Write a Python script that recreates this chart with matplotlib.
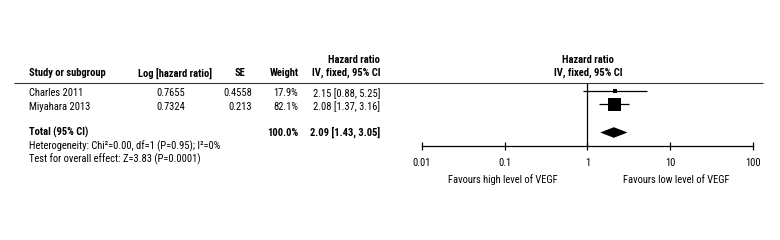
import numpy as np
import matplotlib
matplotlib.use('Agg')
import matplotlib.pyplot as plt

plt.rcParams['font.family'] = ['Roboto Condensed', 'Liberation Sans']

# dados
studies = ['Charles 2011', 'Miyahara 2013']
log_hr = ['0.7655', '0.7324']
se = ['0.4558', '0.213']
weight = [17.9, 82.1]
hr = [2.15, 2.08]
ci_lo = [0.88, 1.37]
ci_hi = [5.25, 3.16]

total_weight = 100.0
total_hr = 2.09
total_lo = 1.43
total_hi = 3.05
heterogeneity = 'Heterogeneity: Chi\u00b2=0.00, df=1 (P=0.95); I\u00b2=0%'
overall = 'Test for overall effect: Z=3.83 (P=0.0001)'

ticks = [0.01, 0.1, 1, 10, 100]
tick_labels = ['0.01', '0.1', '1', '10', '100']
left_label = 'Favours high level of VEGF'
right_label = 'Favours low level of VEGF'

# layout (pixels)
W, H = 780, 240
fs = 7.6
row_y = [93.5, 106.5]
total_y = 132.5
axis_y = 146.3
header_y = 82.5

fig = plt.figure(figsize=(W / 100, H / 100), dpi=100)

# tabela
tab = fig.add_axes([0, 0, 1, 1])
tab.set_xlim(0, W)
tab.set_ylim(H, 0)
tab.axis('off')

tab.hlines(header_y, 14, 763, color='#333333', lw=0.8)

bold = dict(fontsize=fs, fontweight='bold', va='center')
norm = dict(fontsize=fs, va='center')

tab.text(29, 73, 'Study or subgroup', ha='left', **bold)
tab.text(175, 73, 'Log [hazard ratio]', ha='center', **bold)
tab.text(240, 73, 'SE', ha='center', **bold)
tab.text(299, 73, 'Weight', ha='right', **bold)
tab.text(380, 60, 'Hazard ratio', ha='right', **bold)
tab.text(380, 73, 'IV, fixed, 95% CI', ha='right', **bold)
tab.text(588, 60, 'Hazard ratio', ha='center', **bold)
tab.text(588, 73, 'IV, fixed, 95% CI', ha='center', **bold)

for i, name in enumerate(studies):
    y = row_y[i]
    tab.text(29, y, name, ha='left', **norm)
    tab.text(171, y, log_hr[i], ha='center', **norm)
    tab.text(252, y, se[i], ha='right', **norm)
    tab.text(298, y, '%.1f%%' % weight[i], ha='right', **norm)
    tab.text(380, y, '%.2f [%.2f, %.2f]' % (hr[i], ci_lo[i], ci_hi[i]), ha='right', **norm)

tab.text(29, total_y, 'Total (95% CI)', ha='left', **bold)
tab.text(298, total_y, '%.1f%%' % total_weight, ha='right', **bold)
tab.text(380, total_y, '%.2f [%.2f, %.2f]' % (total_hr, total_lo, total_hi), ha='right', **bold)
tab.text(29, 146, heterogeneity, ha='left', **norm)
tab.text(29, 159, overall, ha='left', **norm)

tab.text(503, 180, left_label, ha='center', **norm)
tab.text(676, 180, right_label, ha='center', **norm)

# forest
x0, x1 = 421.7, 753.0
ax = fig.add_axes([x0 / W, 0, (x1 - x0) / W, 1])
ax.patch.set_alpha(0)
ax.set_xscale('log')
ax.set_xlim(0.01, 100)
ax.set_ylim(H, 0)
for s in ['top', 'left', 'right']:
    ax.spines[s].set_visible(False)
ax.spines['bottom'].set_position(('data', axis_y))
ax.spines['bottom'].set_linewidth(0.9)
ax.set_yticks([])
ax.set_xticks(ticks)
ax.set_xticklabels(tick_labels, fontsize=fs)
ax.minorticks_off()
ax.tick_params(axis='x', direction='inout', length=6, width=0.9, pad=5.5)

ax.vlines(1, header_y, axis_y, color='black', lw=0.9)

wmax = max(weight)
for i in range(len(studies)):
    y = row_y[i] - 2.5
    ax.hlines(y, ci_lo[i], ci_hi[i], color='black', lw=0.9)
    side = 13 * (weight[i] / wmax) ** 0.8 * 0.72
    ax.plot(hr[i], y, marker='s', ms=side, color='black', mec='black', mew=0)

dh = 5.3
ax.fill([total_lo, total_hr, total_hi, total_hr],
        [total_y, total_y - dh, total_y, total_y + dh], color='black', lw=0)

fig.savefig('out.png', dpi=100)
